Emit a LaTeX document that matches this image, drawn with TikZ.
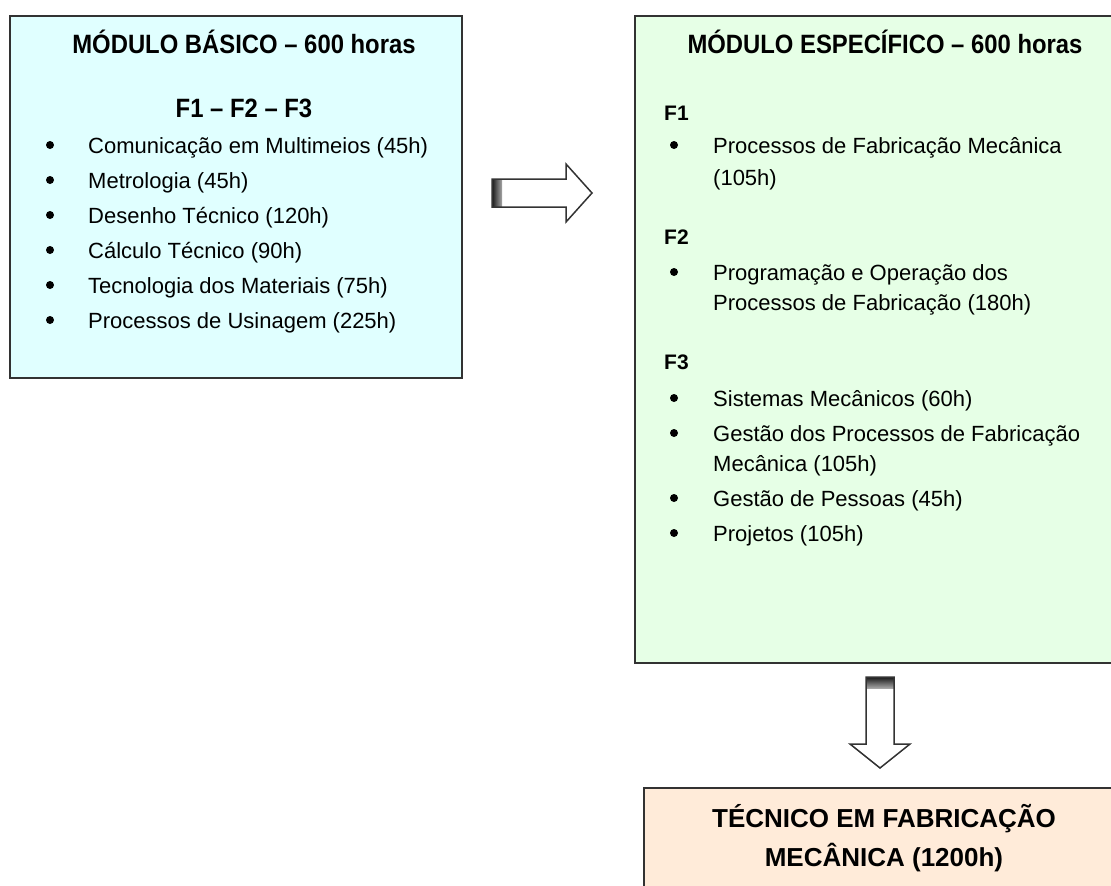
\documentclass[tikz,border=0pt]{standalone}
\usepackage{fontspec}
\setmainfont{Liberation Sans}
\newfontfamily\estreita[FakeStretch=0.9]{Liberation Sans}
\usetikzlibrary{positioning}
\definecolor{basico}{RGB}{224,255,255}
\definecolor{especifico}{RGB}{230,255,230}
\definecolor{tecnico}{RGB}{255,235,217}
\definecolor{borda}{RGB}{50,50,50}
\begin{document}
\begin{tikzpicture}[x=1pt, y=-1pt,
  box/.style={draw=borda, line width=2pt, anchor=north west, inner sep=0pt},
  titulo/.style={font=\estreita\fontsize{26.5}{30}\selectfont\bfseries, inner sep=0pt},
  fase/.style={anchor=base west, inner sep=0pt, font=\fontsize{21}{24}\selectfont\bfseries},
  item/.style={anchor=base west, inner sep=0pt, font=\fontsize{22}{26}\selectfont},
  bolinha/.style={circle, fill=black, inner sep=0pt, minimum size=8},
  seta/.style={draw=black!80, line width=1.5pt, line join=miter}]
\useasboundingbox (0,0) rectangle (1111,886);
\clip (0,0) rectangle (1111,886);

% caixas
\node (basico) [box, fill=basico, minimum width=452, minimum height=362] at (9,15) {};
\node (especifico) [box, fill=especifico, minimum width=500, minimum height=647] at (634,15) {};
\node (tecnico) [box, fill=tecnico, minimum width=500, minimum height=140] at (643,787) {};

% modulo basico
\node (tbasico) [titulo] at (244,42) {MÓDULO BÁSICO – 600 horas};
\node (fbasico) [titulo] at (244,108) {F1 – F2 – F3};
\foreach \t [count=\i from 0] in {Comunicação em Multimeios (45h), Metrologia (45h),
    Desenho Técnico (120h), Cálculo Técnico (90h), Tecnologia dos Materiais (75h),
    Processos de Usinagem (225h)} {
  \node (bb\i) [bolinha] at (50,145+35*\i) {};
  \node (ib\i) [item] at (88,153+35*\i) {\t};
}

% modulo especifico
\node (tesp) [titulo] at (885,42) {MÓDULO ESPECÍFICO – 600 horas};
\node (f1) [fase] at (664,120) {F1};
\node (f2) [fase] at (664,244) {F2};
\node (f3) [fase] at (664,369) {F3};
\foreach \y [count=\i] in {145,272,398,433,498,533}
  \node (be\i) [bolinha] at (674,\y) {};
\foreach \y/\t [count=\i] in {145/Processos de Fabricação Mecânica, 177/(105h),
    272/Programação e Operação dos, 302/Processos de Fabricação (180h),
    398/Sistemas Mecânicos (60h), 433/Gestão dos Processos de Fabricação,
    463/Mecânica (105h), 498/Gestão de Pessoas (45h), 533/Projetos (105h)}
  \node (ie\i) [item] at (713,\y+8) {\t};

% tecnico
\node (ttec) [titulo, font=\fontsize{26}{39}\selectfont\bfseries, align=center] at (884,838)
  {TÉCNICO EM FABRICAÇÃO\\MECÂNICA (1200h)};

% setas
\fill [white] (492,179) -- (566,179) -- (566,164) -- (592,193) -- (566,222) -- (566,207) -- (492,207) -- cycle;
\shade [left color=black!90, right color=black!35] (492,179) rectangle (502,207);
\draw [seta] (492,179) -- (566,179) -- (566,164) -- (592,193) -- (566,222) -- (566,207) -- (492,207) -- cycle;

\fill [white] (866,677) -- (894,677) -- (894,744) -- (910,744) -- (880,768) -- (850,744) -- (866,744) -- cycle;
\shade [top color=black!90, bottom color=black!35] (866,677) rectangle (894,688);
\draw [seta] (866,677) -- (894,677) -- (894,744) -- (910,744) -- (880,768) -- (850,744) -- (866,744) -- cycle;
\end{tikzpicture}
\end{document}
